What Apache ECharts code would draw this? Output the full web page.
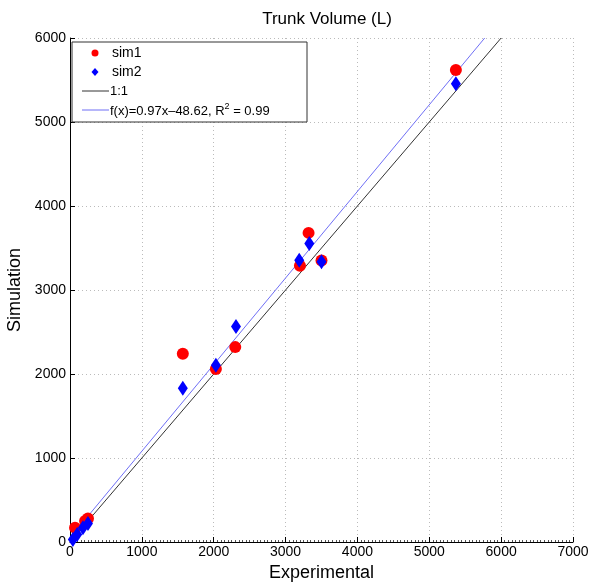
<!DOCTYPE html>
<html><head><meta charset="utf-8">
<script src="https://cdn.jsdelivr.net/npm/echarts@6/dist/echarts.min.js"></script>
<style>html,body{margin:0;padding:0;background:#fff}#c{width:591px;height:584px}</style>
</head><body><div id="c"></div>
<script>
const xTicks = [0,1000,2000,3000,4000,5000,6000,7000];
const yTicks = [0,1000,2000,3000,4000,5000,6000];
const sim1X = [70, 210, 250, 1570, 2030, 2300, 3200, 3320, 3500, 5370];
const sim1Y = [170, 250, 280, 2240, 2060, 2320, 3290, 3680, 3350, 5620];
const sim2X = [40, 100, 180, 250, 1570, 2030, 2310, 3190, 3330, 3500, 5370];
const sim2Y = [30, 90, 170, 220, 1830, 2105, 2565, 3355, 3555, 3335, 5455];
const oneToOne = [[0,0],[6000,6000]];
const fitSlope = 0.97, fitIntercept = -48.62;
const fitLine = [[0,(0 - fitIntercept)/fitSlope],[6000*fitSlope+fitIntercept,6000]];

const s1 = sim1X.map((x,i)=>[x,sim1Y[i]]);
const s2 = sim2X.map((x,i)=>[x,sim2Y[i]]);
const font = 'Helvetica, "Liberation Sans", Arial, sans-serif';
const chart = echarts.init(document.getElementById('c'), null, {renderer:'canvas'});
chart.setOption({
  animation:false,
  title:{text:'Trunk Volume (L)', left:322, top:6, textAlign:'center',
    textStyle:{fontFamily:font,fontSize:17,fontWeight:'normal',color:'#000'}},
  grid:{left:70,right:18,top:38,bottom:42,show:false,containLabel:false,outerBoundsMode:'none'},
  xAxis:{type:'value',min:0,max:7000,interval:1000,
    name:'Experimental',nameLocation:'middle',nameGap:21,
    nameTextStyle:{fontFamily:font,fontSize:18,color:'#000'},
    axisLine:{show:true,onZero:false,lineStyle:{color:'#000',width:1}},
    axisTick:{show:true,inside:true,length:5,lineStyle:{color:'#000'}},
    minorTick:{show:true,splitNumber:20,length:2,lineStyle:{color:'#555'}},
    axisLabel:{fontFamily:font,fontSize:14,color:'#000',margin:3,formatter:v=>String(v)},
    splitLine:{show:true,lineStyle:{color:'#bbb',type:[1,3],width:1}}},
  yAxis:{type:'value',min:0,max:6000,interval:1000,
    name:'Simulation',nameLocation:'middle',nameGap:42,
    nameTextStyle:{fontFamily:font,fontSize:18,color:'#000'},
    axisLine:{show:true,onZero:false,lineStyle:{color:'#000',width:1}},
    axisTick:{show:true,inside:true,length:5,lineStyle:{color:'#000'}},
    axisLabel:{fontFamily:font,fontSize:14,color:'#000',margin:4,formatter:v=>String(v)},
    splitLine:{show:true,lineStyle:{color:'#bbb',type:[1,3],width:1}}},
  legend:{show:false},
  series:[
    {name:'1:1',type:'line',data:oneToOne,symbol:'none',lineStyle:{color:'#333',width:1},z:2},
    {name:'fit',type:'line',data:fitLine,symbol:'none',lineStyle:{color:'#6f6ff5',width:1},z:2},
    {name:'sim1',type:'scatter',data:s1,symbol:'circle',symbolSize:12,itemStyle:{color:'#f00',opacity:1},z:3},
    {name:'sim2',type:'scatter',data:s2,symbol:'diamond',symbolSize:[10,15],itemStyle:{color:'#00f',opacity:1},z:4}
  ],
  graphic:[
    {type:'rect',shape:{x:72,y:42,width:235,height:80},style:{fill:'#fff',stroke:'#333',lineWidth:1},z:10},
    {type:'circle',shape:{cx:95,cy:53,r:3.5},style:{fill:'#f00'},z:11},
    {type:'text',style:{x:112,y:53,text:'sim1',font:'14px '+font,fill:'#000',textVerticalAlign:'middle'},z:11},
    {type:'polygon',shape:{points:[[95,68],[98.5,72],[95,76],[91.5,72]]},style:{fill:'#00f'},z:11},
    {type:'text',style:{x:112,y:72,text:'sim2',font:'14px '+font,fill:'#000',textVerticalAlign:'middle'},z:11},
    {type:'line',shape:{x1:82,y1:91,x2:109,y2:91},style:{stroke:'#333',lineWidth:1},z:11},
    {type:'text',style:{x:110,y:91,text:'1:1',font:'13px '+font,fill:'#000',textVerticalAlign:'middle'},z:11},
    {type:'line',shape:{x1:82,y1:110,x2:109,y2:110},style:{stroke:'#6f6ff5',lineWidth:1},z:11},
    {type:'text',style:{x:110,y:110,text:'{a|f(x)=0.97x\u201348.62, R}{s|2}{a| = 0.99}',
      rich:{a:{fontSize:13,fontFamily:font,fill:'#000',verticalAlign:'bottom'},s:{fontSize:9,fontFamily:font,fill:'#000',verticalAlign:'top',padding:[0,0,6,0]}},
      font:'13px '+font,fill:'#000',textVerticalAlign:'middle'},z:11}
  ]
});
</script></body></html>
